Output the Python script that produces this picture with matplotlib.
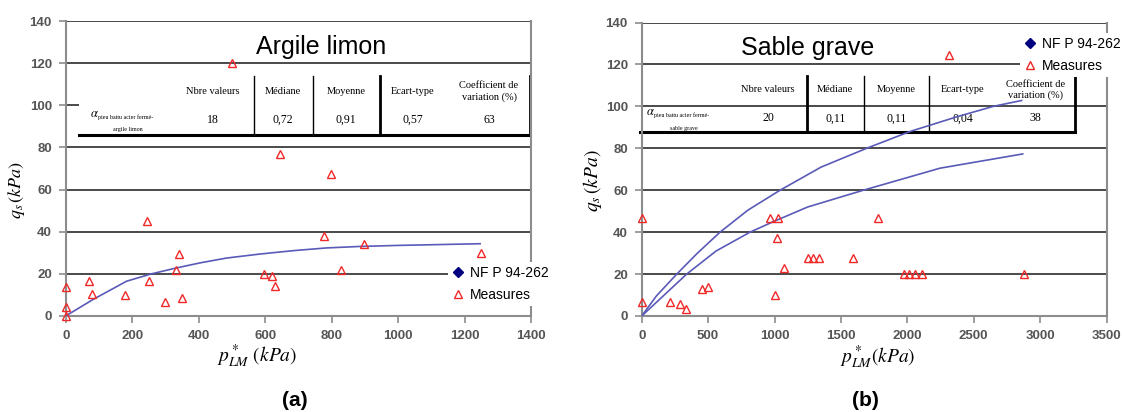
import matplotlib
matplotlib.use('Agg')
import matplotlib.pyplot as plt
from matplotlib.lines import Line2D
from matplotlib.patches import Rectangle

plt.rcParams['font.family'] = ['Liberation Sans', 'DejaVu Sans']
plt.rcParams['mathtext.fontset'] = 'stix'

# -- data
# (a) Argile limon
clay_x = [0, 0, 0, 71, 80, 179, 245, 251, 299, 333, 341, 349, 500, 597, 620, 630,
          646, 777, 797, 829, 897, 1249]
clay_y = [0, 4.3, 13.7, 16.5, 10.6, 10.2, 45, 16.5, 6.8, 21.6, 29.4, 8.7, 120, 19.7,
          18.9, 14.2, 77, 38.1, 67.5, 21.6, 34.2, 29.8]
clay_nf_x = [0, 83, 183, 258, 333, 404, 484, 584, 684, 784, 884, 1000, 1247]
clay_nf_y = [0, 7.9, 16.5, 20, 22.8, 25.2, 27.5, 29.4, 31, 32.3, 33, 33.5, 34.3]

# (b) Sable grave
sand_x = [0, 0, 212, 287, 332, 456, 500, 963, 1000, 1018, 1030, 1072, 1250, 1287,
          1332, 1590, 1778, 1976, 2016, 2058, 2114, 2313, 2876]
sand_y = [46.7, 6.5, 6.5, 5.7, 3.5, 12.7, 13.8, 46.7, 10, 37, 46.7, 23, 27.5, 27.5,
          27.5, 27.5, 46.7, 20, 20, 20, 20, 124.5, 20]
sand_nf1_x = [0, 110, 264, 420, 590, 800, 1042, 1350, 1694, 2020, 2372, 2648, 2861]
sand_nf1_y = [0, 9.5, 20, 30, 40, 50.5, 60, 71, 80, 88, 95, 100, 102.8]
sand_nf2_x = [0, 339, 560, 816, 991, 1250, 1669, 2246, 2869]
sand_nf2_y = [0, 20, 31, 40, 45, 52, 60, 70.5, 77.3]

headers = ['Nbre valeurs', 'Médiane', 'Moyenne', 'Ecart-type', 'Coefficient de\nvariation (%)']
clay_stats = ['18', '0,72', '0,91', '0,57', '63']
sand_stats = ['20', '0,11', '0,11', '0,04', '38']

W, H = 1122, 412
fig = plt.figure(figsize=(W / 100, H / 100), dpi=100)

GRID = '#3c3c3c'
SPINE = '#8c8c8c'
TICK = '#555555'
RED = '#f02828'
BLUE = '#5a5ab8'


def make_axes(box):
    x0, y0, x1, y1 = box
    ax = fig.add_axes([x0 / W, 1 - y1 / H, (x1 - x0) / W, (y1 - y0) / H])
    return ax


def to_ax(box, px, py):
    x0, y0, x1, y1 = box
    return (px - x0) / (x1 - x0), (y1 - py) / (y1 - y0)


def style(ax, xmax, xstep):
    ax.set_xlim(0, xmax)
    ax.set_ylim(0, 140)
    ax.set_xticks(range(0, xmax + 1, xstep))
    ax.set_yticks(range(0, 141, 20))
    ax.set_axisbelow(True)
    ax.yaxis.grid(True, color=GRID, lw=1.3)
    ax.spines['top'].set_visible(False)
    for s in ['left', 'right', 'bottom']:
        ax.spines[s].set_color(SPINE)
        ax.spines[s].set_linewidth(1.5)
    ax.tick_params(direction='out', length=5, width=1.2, color=SPINE,
                   labelcolor=TICK, labelsize=9.5, pad=5)
    for lbl in ax.get_xticklabels() + ax.get_yticklabels():
        lbl.set_fontweight('bold')


def table(ax, box, left, right, top, bottom, seps, thick, xs, alpha_x, alpha_sub,
          hy, vy, stats, white):
    T = ax.transAxes
    kw = dict(transform=T, clip_on=False)
    lx, by = to_ax(box, left, bottom)
    rx, ty = to_ax(box, right, top)
    if white:
        _, ty2 = to_ax(box, right, top - 6)
        ax.add_patch(Rectangle((lx, by), rx - lx, ty2 - by, facecolor='white',
                               edgecolor='none', zorder=2, **kw))
    ax.add_line(Line2D([lx, rx], [by, by], color='black', lw=2.2, zorder=2.5, **kw))
    for sx, tk in zip(seps, thick):
        fx, _ = to_ax(box, sx, 0)
        ax.add_line(Line2D([fx, fx], [by, ty], color='black', lw=2.0 if tk else 1.0,
                           zorder=2.5, **kw))
    serif = dict(family='Liberation Serif', ha='center', va='center', zorder=2.6, **kw)
    for x, h, v in zip(xs, headers, stats):
        fx, fy = to_ax(box, x, hy)
        ax.text(fx, fy, h, fontsize=7.5, linespacing=1.3, **serif)
        fx, fy = to_ax(box, x, vy)
        ax.text(fx, fy, v, fontsize=8.5, **serif)
    fx, fy = to_ax(box, alpha_x, vy - 6)
    ax.text(fx, fy, r'$\alpha$', fontsize=9, **serif)
    fx, fy = to_ax(box, alpha_x + 4, vy - 3)
    ax.text(fx, fy, 'pieu battu acier fermé-', fontsize=4.3,
            **{**serif, 'ha': 'left'})
    fx, fy = to_ax(box, alpha_x + 34, vy + 10)
    ax.text(fx, fy, alpha_sub, fontsize=4.3, **serif)


h_nf = Line2D([], [], linestyle='none', marker='D', markersize=5,
              color='#000080')
h_me = Line2D([], [], linestyle='none', marker='^', markersize=5.5,
              markerfacecolor='none', markeredgecolor=RED, markeredgewidth=1.0)


def legend(ax, anchor):
    leg = ax.legend([h_nf, h_me], ['NF P 94-262', 'Measures'], loc='upper left',
                    bbox_to_anchor=anchor, frameon=True, fancybox=False,
                    edgecolor='none', facecolor='white', framealpha=1,
                    fontsize=10, handlelength=0.8, handletextpad=0.5,
                    labelspacing=0.55, borderpad=0.3, borderaxespad=0)
    leg.set_zorder(5)


# ---- (a) Argile limon
box_a = (65.7, 21, 531, 316)
ax1 = make_axes(box_a)
style(ax1, 1400, 200)
ax1.plot(clay_nf_x, clay_nf_y, color=BLUE, lw=1.2, zorder=3)
ax1.plot(clay_x, clay_y, linestyle='none', marker='^', markersize=5.5,
         markerfacecolor='none', markeredgecolor=RED, markeredgewidth=1.0,
         zorder=4, clip_on=False)
ax1.text(*to_ax(box_a, 321, 47), 'Argile limon', transform=ax1.transAxes,
         fontsize=18, ha='center', va='center')
table(ax1, box_a, 79, 530, 76, 134.7, [253.6, 312.5, 379.6, 530],
      [False, False, True, True], [213, 283, 346, 413, 489], 94,
      'argile limon', 91.7, 120, clay_stats, True)
ax1.set_xlabel(r'$p^*_{LM}\ (kPa)$', fontsize=14)
ax1.xaxis.set_label_coords(0.411, -0.09)
ax1.set_ylabel(r'$q_s\,(kPa)$', fontsize=13)
ax1.yaxis.set_label_coords(-0.083, 0.427)
legend(ax1, to_ax(box_a, 448, 262))

# ---- (b) Sable grave
box_b = (641.7, 22.5, 1106.5, 316)
ax2 = make_axes(box_b)
style(ax2, 3500, 500)
ax2.plot(sand_nf1_x, sand_nf1_y, color=BLUE, lw=1.2, zorder=3)
ax2.plot(sand_nf2_x, sand_nf2_y, color=BLUE, lw=1.2, zorder=3)
ax2.plot(sand_x, sand_y, linestyle='none', marker='^', markersize=5.5,
         markerfacecolor='none', markeredgecolor=RED, markeredgewidth=1.0,
         zorder=4, clip_on=False)
ax2.text(*to_ax(box_b, 808, 47.5), 'Sable grave', transform=ax2.transAxes,
         fontsize=18, ha='center', va='center')
table(ax2, box_b, 640, 1075, 76, 131.7, [806.7, 864.3, 929.3, 1075],
      [True, False, False, True], [768, 835.3, 896.7, 962.7, 1035.3], 650,
      'sable grave', 90, 118.3, sand_stats, False)
ax2.set_xlabel(r'$p^*_{LM}(kPa)$', fontsize=14)
ax2.xaxis.set_label_coords(0.508, -0.095)
ax2.set_ylabel(r'$q_s\,(kPa)$', fontsize=14)
ax2.yaxis.set_label_coords(-0.081, 0.46)
legend(ax2, to_ax(box_b, 1020, 33))

fig.text(295 / W, 1 - 400 / H, '(a)', fontsize=15, fontweight='bold',
         ha='center', va='center')
fig.text(865 / W, 1 - 400 / H, '(b)', fontsize=15, fontweight='bold',
         ha='center', va='center')

fig.savefig('out.png', dpi=100)
